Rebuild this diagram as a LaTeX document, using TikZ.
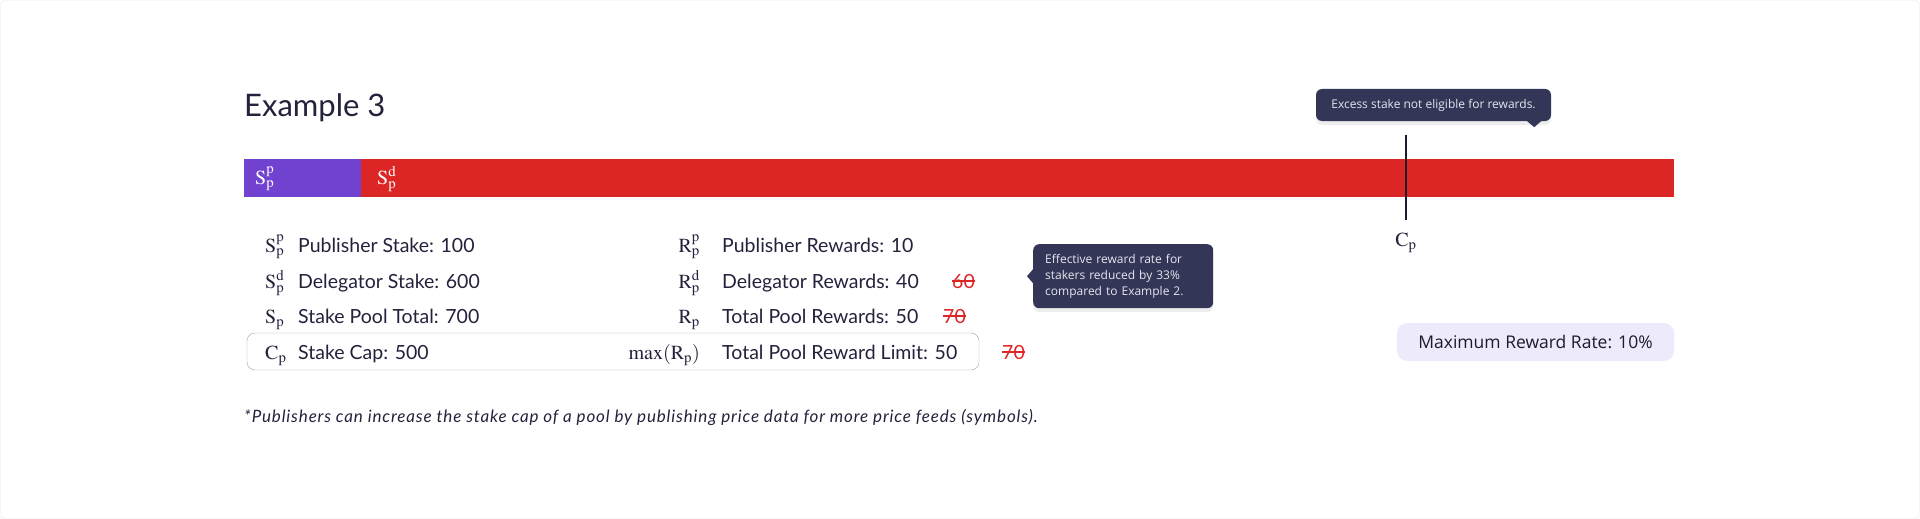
\documentclass[tikz,border=0pt]{standalone}
\usepackage{mathptmx}
\usepackage[no-math]{fontspec}
\setmainfont{Lato}
\newfontfamily\tipfont{Open Sans}
\newfontfamily\notefont[LetterSpace=5.0]{Lato}
\usetikzlibrary{calc,shadows}

\definecolor{inkdark}{HTML}{23223C}
\definecolor{stakepurple}{HTML}{7142CF}
\definecolor{stakered}{HTML}{DC2626}
\definecolor{tipnavy}{HTML}{333656}
\definecolor{tiptext}{HTML}{E6E6F0}
\definecolor{ratelav}{HTML}{EDEBFB}
\definecolor{capgray}{HTML}{A3A3AD}

\begin{document}
\begin{tikzpicture}[x=1pt, y=-1pt,
  lbl/.style={anchor=base west, inner sep=0, text=inkdark, font=\fontsize{19.5}{23}\selectfont},
  sym/.style={inner sep=0, text=inkdark, font=\fontsize{20}{24}\selectfont},
  struck/.style={anchor=base west, inner sep=0, text=stakered, font=\fontsize{19.5}{23}\selectfont},
  tip/.style={fill=tipnavy, rounded corners=6, text=tiptext, font=\tipfont\fontsize{12}{16.3}\selectfont,
    drop shadow={shadow xshift=0pt, shadow yshift=-4pt, opacity=0.07, fill=black}}]
\useasboundingbox (0,0) rectangle (1920,519);
\draw[gray!18, rounded corners=4] (0.5,0.5) rectangle (1919.5,518.5);
\node[anchor=base west, inner sep=0, text=inkdark, font=\fontsize{31}{36}\selectfont] (title) at (244,116) {Example 3};
% stake bar
\fill[stakepurple] (244,159) rectangle (361,197);
\fill[stakered] (361,159) rectangle (1674,197);
\node[sym, anchor=base west, text=white] (barpub) at (255,184) {$\mathrm{S}^{\mathrm{p}}_{\mathrm{p}}$};
\node[sym, anchor=base west, text=white] (bardel) at (377,184) {$\mathrm{S}^{\mathrm{d}}_{\mathrm{p}}$};
% stake cap marker
\coordinate (captop) at (1406,135);
\node[sym, anchor=base] (caplbl) at (1406,246) {$\mathrm{C}_{\mathrm{p}}$};
\draw[inkdark!80!black, line width=2pt] (captop) -- ([yshift=12pt]caplbl.north);
\node[tip, minimum width=235, minimum height=32] (excesstip) at (1433.5,105) {Excess stake not eligible for rewards.};
\fill[tipnavy] ($(excesstip.south east)+(-24,0)$) -- ++(14,0) -- ++(-7,6) -- cycle;
% stake column
\node[sym, anchor=base west] (spp) at (265,252) {$\mathrm{S}^{\mathrm{p}}_{\mathrm{p}}$};
\node[lbl] (pubstake) at (298,252) {Publisher Stake: 100};
\node[sym, anchor=base west] (spd) at (265,288) {$\mathrm{S}^{\mathrm{d}}_{\mathrm{p}}$};
\node[lbl] (delstake) at (298,288) {Delegator Stake: 600};
\node[sym, anchor=base west] (sp) at (265,323) {$\mathrm{S}_{\mathrm{p}}$};
\node[lbl] (pooltotal) at (298,323) {Stake Pool Total: 700};
\node[sym, anchor=base west] (cp) at (265,359) {$\mathrm{C}_{\mathrm{p}}$};
\node[lbl] (stakecap) at (298,359) {Stake Cap: 500};
% reward column
\node[sym, anchor=base east] (rpp) at (700,252) {$\mathrm{R}^{\mathrm{p}}_{\mathrm{p}}$};
\node[lbl] (pubreward) at (722,252) {Publisher Rewards: 10};
\node[sym, anchor=base east] (rpd) at (700,288) {$\mathrm{R}^{\mathrm{d}}_{\mathrm{p}}$};
\node[lbl] (delreward) at (722,288) {Delegator Rewards: 40};
\node[sym, anchor=base east] (rp) at (700,323) {$\mathrm{R}_{\mathrm{p}}$};
\node[lbl] (poolreward) at (722,323) {Total Pool Rewards: 50};
\node[sym, anchor=base east] (maxrp) at (700,359) {$\max(\mathrm{R}_{\mathrm{p}})$};
\node[lbl] (rewardlimit) at (722,359) {Total Pool Reward Limit: 50};
\draw[capgray, rounded corners=8] (247,333) rectangle (979,370);
% struck old values
\node[struck] (delold) at (952,288) {60};
\draw[stakered, line width=1.3pt] (delold.west) -- (delold.east);
\node[struck] (poolold) at (943,323) {70};
\draw[stakered, line width=1.3pt] (poolold.west) -- (poolold.east);
\node[struck] (limitold) at (1002,359) {70};
\draw[stakered, line width=1.3pt] (limitold.west) -- (limitold.east);
\node[tip, anchor=north west, minimum height=64, text width=156, inner xsep=12, align=left] (ratetip) at (1033,244)
  {Effective reward rate for\\stakers reduced by 33\%\\compared to Example 2.};
\fill[tipnavy] ($(ratetip.west)+(0,-7)$) -- ++(0,14) -- ++(-6,-7) -- cycle;
% rate box
\node[fill=ratelav, rounded corners=10, minimum width=277, minimum height=38, text=inkdark!80!black,
  font=\tipfont\fontsize{17.5}{21}\selectfont] (ratebox) at (1535.5,342) {Maximum Reward Rate: 10\%};
\node[anchor=base west, inner sep=0, text=inkdark, font=\notefont\itshape\fontsize{17}{20}\selectfont] (footnote) at (244,422)
  {*Publishers can increase the stake cap of a pool by publishing price data for more price feeds (symbols).};
\end{tikzpicture}
\end{document}
